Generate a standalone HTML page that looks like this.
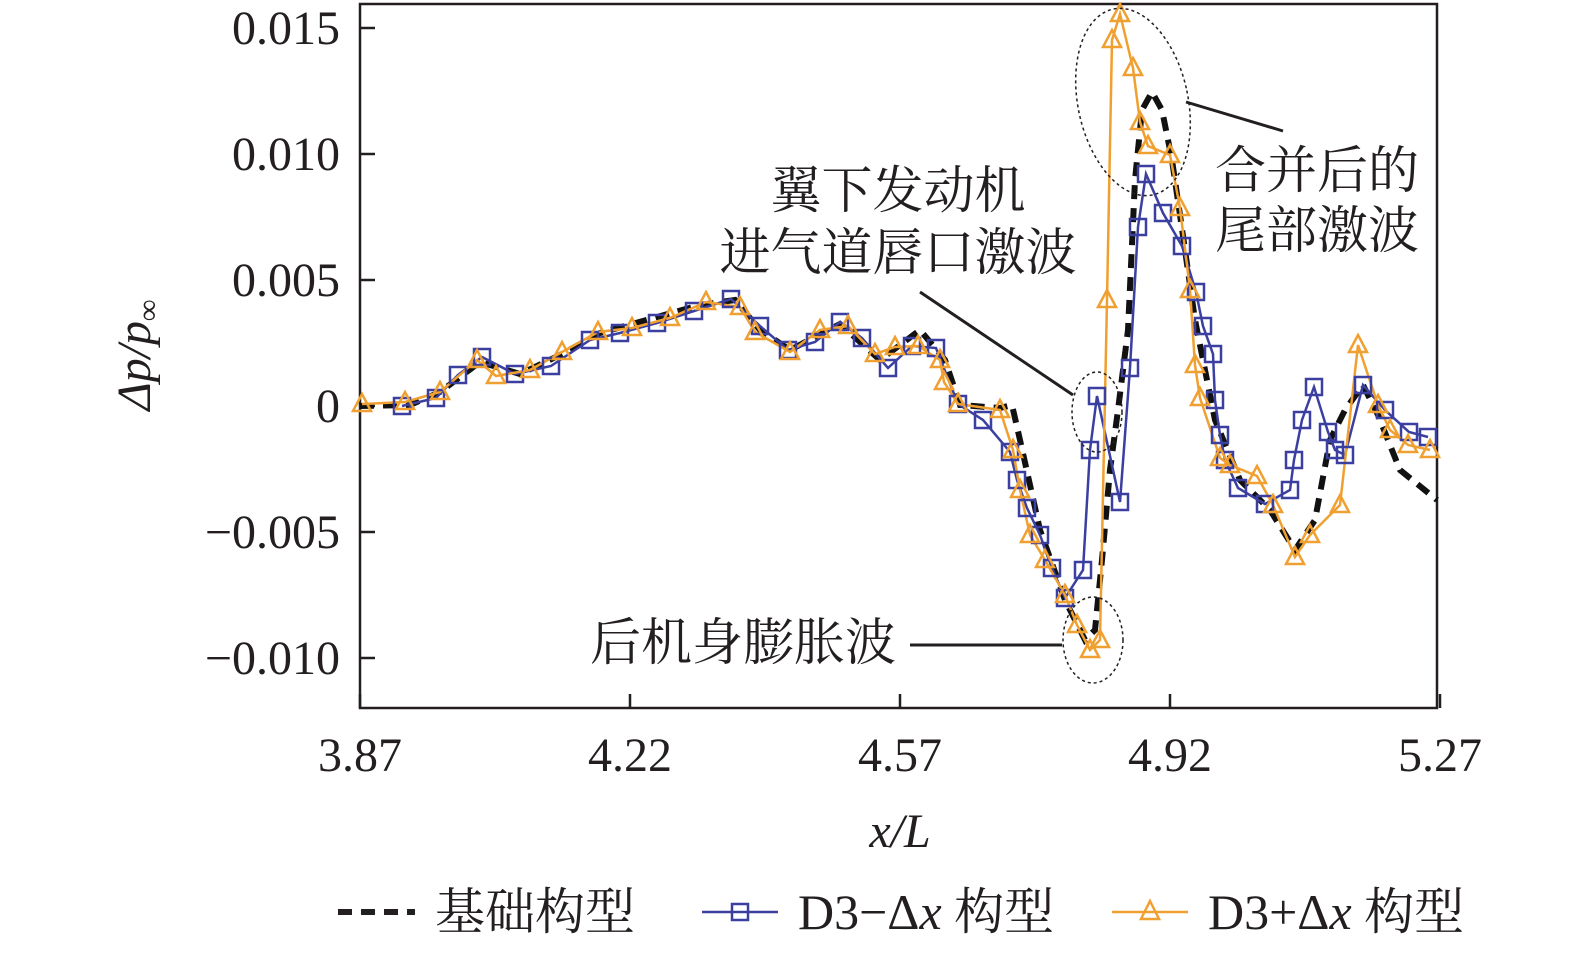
<!DOCTYPE html>
<html><head><meta charset="utf-8"><style>
body{margin:0;background:#fff;}
svg text{font-family:"Liberation Serif","Noto Serif CJK SC",serif;fill:#231f20;}
</style></head><body>
<svg id="c" width="1575" height="949" xmlns="http://www.w3.org/2000/svg">
<rect x="360" y="4" width="1077" height="704" fill="none" stroke="#231f20" stroke-width="2.5"/>
<g id="ticks"></g>
<g id="series"></g>
<g fill="none" stroke="#231f20">
<ellipse cx="1133" cy="102" rx="55" ry="95" transform="rotate(-12 1133 102)" stroke-dasharray="3,3" stroke-width="1.5"/>
<ellipse cx="1097" cy="412" rx="25" ry="40" stroke-dasharray="3,3" stroke-width="1.5"/>
<ellipse cx="1093" cy="640" rx="30" ry="43" stroke-dasharray="3,3" stroke-width="1.5"/>
<line x1="1283" y1="131" x2="1186" y2="102" stroke-width="3"/>
<line x1="920" y1="292" x2="1073" y2="395" stroke-width="3"/>
<line x1="910" y1="645" x2="1062" y2="645" stroke-width="3"/>
</g>
<g font-size="51">
<text x="1215" y="188">合并后的</text>
<text x="1215" y="248">尾部激波</text>
<text x="898" y="208" text-anchor="middle">翼下发动机</text>
<text x="898" y="270" text-anchor="middle">进气道唇口激波</text>
<text x="590" y="660">后机身膨胀波</text>
</g>
<text x="150" y="355" font-size="48" font-style="italic" text-anchor="middle" transform="rotate(-90 150 355)">Δ<tspan>p</tspan>/<tspan>p</tspan><tspan font-size="30" dy="8">∞</tspan></text>
<text x="900" y="847" font-size="48" font-style="italic" text-anchor="middle">x/L</text>
<g font-size="50">
<line x1="338" y1="912" x2="415" y2="912" stroke="#231f20" stroke-width="6" stroke-dasharray="14,9"/>
<text x="435" y="929">基础构型</text>
<line x1="702" y1="912" x2="778" y2="912" stroke="#3b3fa0" stroke-width="2.5"/>
<rect x="732" y="904" width="16" height="16" fill="none" stroke="#3b3fa0" stroke-width="2.5"/>
<text x="798" y="929">D3−Δ<tspan font-style="italic">x</tspan> 构型</text>
<line x1="1112" y1="912" x2="1188" y2="912" stroke="#f0a030" stroke-width="2.5"/>
<path d="M1150 901 L1159 919 L1141 919 Z" fill="none" stroke="#f0a030" stroke-width="2.5"/>
<text x="1208" y="929">D3+Δ<tspan font-style="italic">x</tspan> 构型</text>
</g>
</svg>
<script>
const xTicks=[3.87,4.22,4.57,4.92,5.27];
const xTickLabels=["3.87","4.22","4.57","4.92","5.27"];
const yTicks=[-0.010,-0.005,0,0.005,0.010,0.015];
const yTickLabels=["−0.010","−0.005","0","0.005","0.010","0.015"];
const basePx=[[360,406],[410,405],[440,392],[480,362],[520,374],[560,355],[600,333],[700,305],[735,300],[760,330],[790,350],[840,324],[880,360],[920,330],[945,360],[960,405],[1000,408],[1012,405],[1020,440],[1040,530],[1065,600],[1085,640],[1095,630],[1102,560],[1110,470],[1118,410],[1128,330],[1135,180],[1142,110],[1152,92],[1162,110],[1172,160],[1180,215],[1195,320],[1215,420],[1240,480],[1270,510],[1295,550],[1315,520],[1330,440],[1345,410],[1363,385],[1378,415],[1400,470],[1437,500]];
const minusPx=[[402,406],[436,398],[458,375],[482,357],[515,374],[551,366],[590,340],[620,333],[657,323],[694,311],[731,299],[760,326],[788,350],[815,342],[840,322],[862,338],[888,368],[912,346],[936,348],[958,404],[983,420],[1010,452],[1017,480],[1027,508],[1040,535],[1052,568],[1065,598],[1083,570],[1090,450],[1097,396],[1120,502],[1130,368],[1138,227],[1146,174],[1163,213],[1182,246],[1196,292],[1203,326],[1213,354],[1215,400],[1220,435],[1225,460],[1238,488],[1265,504],[1290,490],[1294,460],[1302,420],[1314,387],[1328,432],[1335,450],[1345,455],[1363,385],[1385,410],[1409,432],[1428,437]];
const plusPx=[[362,404],[405,402],[440,392],[477,360],[496,376],[530,370],[562,352],[598,332],[632,328],[670,318],[706,302],[740,307],[755,332],[790,352],[820,330],[848,326],[875,354],[895,347],[918,346],[940,360],[944,382],[958,404],[1000,410],[1013,450],[1020,490],[1030,535],[1045,560],[1065,595],[1077,625],[1090,650],[1100,640],[1107,300],[1112,40],[1120,14],[1133,68],[1140,122],[1148,146],[1170,155],[1180,208],[1190,290],[1195,365],[1200,398],[1220,458],[1230,465],[1257,476],[1273,505],[1295,557],[1310,535],[1340,505],[1358,345],[1378,405],[1390,430],[1408,445],[1430,450]];
const toData=a=>a.map(p=>[3.87+(p[0]-360)/771.43,(406-p[1])/25200]);
const baseX=toData(basePx).map(p=>p[0]), baseY=toData(basePx).map(p=>p[1]);
const minusX=toData(minusPx).map(p=>p[0]), minusY=toData(minusPx).map(p=>p[1]);
const plusX=toData(plusPx).map(p=>p[0]), plusY=toData(plusPx).map(p=>p[1]);
const sx=v=>360+(v-3.87)*771.43, sy=v=>406-v*25200;
const NS="http://www.w3.org/2000/svg";
function mk(t,a,p){const e=document.createElementNS(NS,t);for(const k in a)e.setAttribute(k,a[k]);p.appendChild(e);return e;}
const tg=document.getElementById('ticks'), sg=document.getElementById('series');
xTicks.forEach((v,i)=>{const l=mk('line',{x1:sx(v),x2:sx(v),y1:708,y2:694,stroke:'#231f20','stroke-width':2.5},tg);


const t=mk('text',{x:sx(v),y:771,'font-size':48,'text-anchor':'middle'},tg);t.textContent=xTickLabels[i];

});
yTicks.forEach((v,i)=>{const l=mk('line',{x1:360,x2:375,y1:sy(v),y2:sy(v),stroke:'#231f20','stroke-width':2.5},tg);


const t=mk('text',{x:340,y:sy(v)+16,'font-size':48,'text-anchor':'end'},tg);t.textContent=yTickLabels[i];

});
function pts(X,Y){return X.map((x,i)=>sx(x)+','+sy(Y[i])).join(' ');}
const bl=mk('polyline',{points:pts(baseX,baseY),fill:'none',stroke:'#111','stroke-width':6,'stroke-dasharray':'14,9'},sg);


const ml=mk('polyline',{points:pts(minusX,minusY),fill:'none',stroke:'#3b3fa0','stroke-width':2.5},sg);


const pl=mk('polyline',{points:pts(plusX,plusY),fill:'none',stroke:'#f0a030','stroke-width':2.5},sg);


minusX.forEach((x,i)=>{const r=mk('rect',{x:sx(x)-8,y:sy(minusY[i])-8,width:16,height:16,fill:'none',stroke:'#3b3fa0','stroke-width':2.5},sg);

});
plusX.forEach((x,i)=>{const X=sx(x),Y=sy(plusY[i]);const p=mk('path',{d:`M${X} ${Y-10} L${X+9} ${Y+7} L${X-9} ${Y+7} Z`,fill:'none',stroke:'#f0a030','stroke-width':2.5},sg);

});
</script>
</body></html>
